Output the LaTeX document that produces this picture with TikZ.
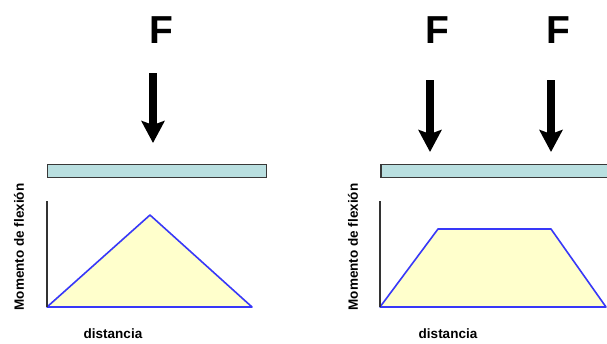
\documentclass[tikz,border=0pt]{standalone}
\usepackage{fontspec}
\setmainfont{Liberation Sans}
\usetikzlibrary{arrows.meta}
\definecolor{beamfill}{HTML}{B9DFE0}
\definecolor{momfill}{HTML}{FFFFCC}
\definecolor{momline}{HTML}{3838F8}
\begin{document}
\begin{tikzpicture}[x=1pt,y=-1pt,
  forcelabel/.style={font=\fontsize{39}{39}\selectfont\bfseries, inner sep=0pt},
  force/.style={line width=8pt, -{Stealth[width=23pt,length=22pt,inset=4pt]}},
  beam/.style={draw=black!78, fill=beamfill, line width=1.8pt, inner sep=0pt, minimum height=13pt},
  axis/.style={draw=black!80, line width=1.5pt},
  moment/.style={draw=momline, fill=momfill, line width=1.6pt, line join=round},
  ylab/.style={font=\fontsize{13.5}{14}\selectfont\bfseries, rotate=90, inner sep=0pt},
  xlab/.style={font=\fontsize{13.5}{14}\selectfont\bfseries, inner sep=0pt}]
\useasboundingbox (0,0) rectangle (607,343);
\clip (0,0) rectangle (607,343);
\fill[white] (0,0) rectangle (607,343);

% ---- left panel ----
\node[forcelabel] (FL) at (161,30) {F};
\coordinate (aLtop) at (153,73);
\coordinate (aLtip) at (153,143);
\draw[force] (aLtop) -- (aLtip);
\node[beam, minimum width=219pt] (beamL) at (157,171) {};
\draw[moment] (47,307) -- (150,215) -- (252,307) -- cycle;
\coordinate (axLtop) at (47,201);
\coordinate (axLbot) at (47,307);
\draw[axis] (axLtop) -- (axLbot);
\node[ylab] (yL) at (19,247) {Momento de flexión};
\node[xlab] (xL) at (113,334) {distancia};

% ---- right panel ----
\node[forcelabel] (FR1) at (437,30) {F};
\node[forcelabel] (FR2) at (558,30) {F};
\coordinate (aR1top) at (430,80);
\coordinate (aR1tip) at (430,152);
\coordinate (aR2top) at (551,80);
\coordinate (aR2tip) at (551,152);
\draw[force] (aR1top) -- (aR1tip);
\draw[force] (aR2top) -- (aR2tip);
\node[beam, minimum width=240pt, anchor=west] (beamR) at (380,171) {};
\draw[moment] (380,307) -- (438,229) -- (551,229) -- (606,307) -- cycle;
\coordinate (axRtop) at (380,201);
\coordinate (axRbot) at (380,307);
\draw[axis] (axRtop) -- (axRbot);
\node[ylab] (yR) at (353,247) {Momento de flexión};
\node[xlab] (xR) at (448,334) {distancia};
\end{tikzpicture}
\end{document}
